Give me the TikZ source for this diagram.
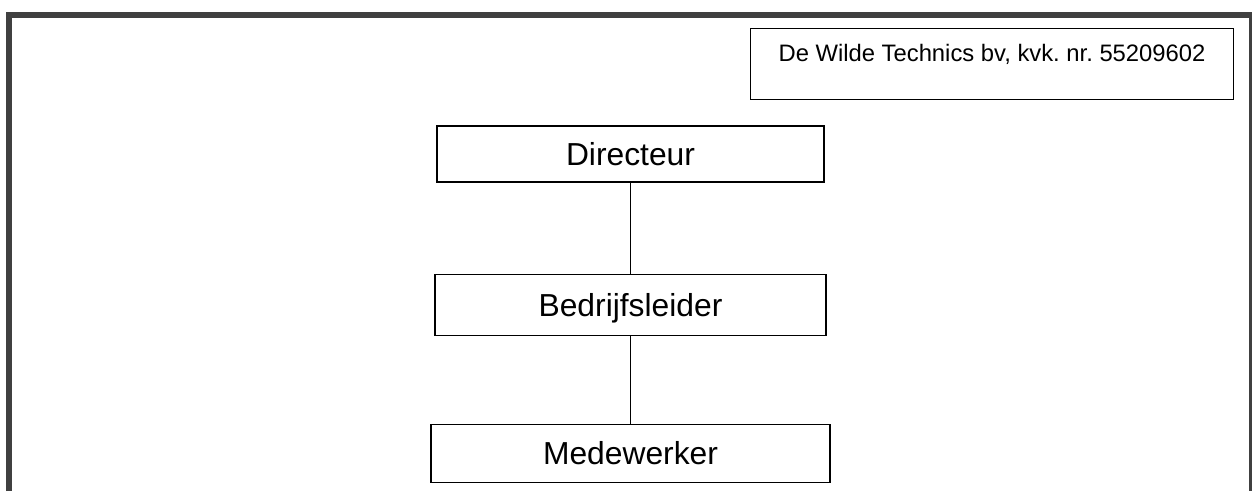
\documentclass[tikz,border=0pt]{standalone}
\usepackage{fontspec}
\setmainfont{Liberation Sans}
\usetikzlibrary{positioning}
\frenchspacing

\begin{document}
\begin{tikzpicture}[x=1pt, y=-1pt,
	functie/.style = {draw, rectangle, line width=1.2pt, inner sep=0pt, text height=23pt, text depth=0pt, font=\fontsize{31.8}{38}\selectfont},
	lijn/.style = {line width=1.3pt}]
	\useasboundingbox (0,0) rectangle (1252,491);
	\draw [line width=6pt, draw=black!75] (9,491) -- (9,15) -- (1252,15) -- (1252,491);
	\node [draw, rectangle, line width=1pt, anchor=north west, inner sep=0pt, minimum width=483pt, text height=33pt, text depth=38pt, font=\fontsize{23.8}{28}\selectfont] (Bedrijf) at (750,28) {De Wilde Technics bv, kvk. nr. 55209602};
	\node [functie, minimum width=387pt, minimum height=56pt] (Directeur) at (630.5,154) {Directeur};
	\node [functie, minimum width=391pt, minimum height=61pt, below = 91pt of Directeur] (Bedrijfsleider) {Bedrijfsleider};
	\node [functie, minimum width=399pt, minimum height=58pt, below = 88pt of Bedrijfsleider] (Medewerker) {Medewerker};
	\draw [lijn] (Directeur) -- (Bedrijfsleider);
	\draw [lijn] (Bedrijfsleider) -- (Medewerker);
\end{tikzpicture}
\end{document}
